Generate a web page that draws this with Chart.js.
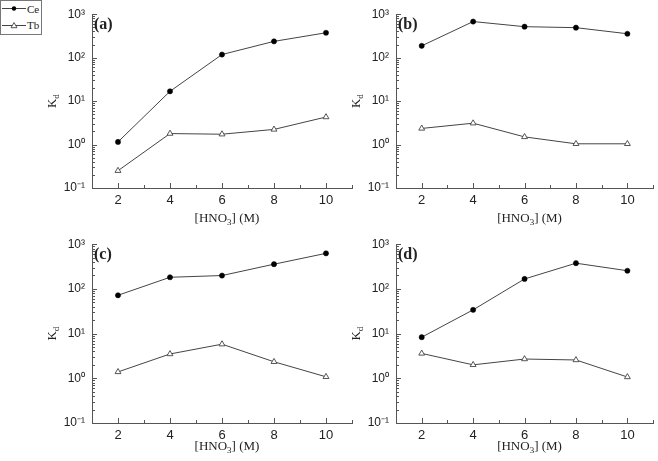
<!DOCTYPE html>
<html>
<head>
<meta charset="utf-8">
<script src="https://cdn.jsdelivr.net/npm/chart.js@4.4.1/dist/chart.umd.min.js"></script>
<style>
  html, body { margin: 0; padding: 0; background: #fff; }
  #wrap { position: relative; width: 658px; height: 461px; overflow: hidden; background: #fff; }
  canvas { position: absolute; }
  #legend { position: absolute; left: 0; top: 0; width: 40px; height: 33px; border: 1px solid #777; background: #fff; z-index: 5;
            font-family: "Liberation Serif", "Times New Roman", serif; font-size: 11px; color: #222; }
  .row { position: absolute; left: 0; height: 16px; width: 40px; white-space: nowrap; }
  .row svg { position: absolute; left: 0px; top: 0px; }
  .row span { position: absolute; left: 26px; top: 1px; line-height: 14px; white-space: nowrap; }
</style>
</head>
<body>
<div id="wrap">
  <canvas id="ca" style="left:0px;top:0px" width="360" height="230"></canvas>
  <canvas id="cb" style="left:304px;top:0px" width="354" height="230"></canvas>
  <canvas id="cc" style="left:0px;top:230px" width="360" height="231"></canvas>
  <canvas id="cd" style="left:304px;top:230px" width="354" height="231"></canvas>
  <div id="legend">
    <div class="row" style="top:0px">
      <svg width="26" height="16"><line x1="1" y1="7.5" x2="25" y2="7.5" stroke="#444" stroke-width="1"/><circle cx="13" cy="7.5" r="2.2" fill="#000"/></svg>
      <span>Ce</span>
    </div>
    <div class="row" style="top:16px">
      <svg width="26" height="16"><line x1="1" y1="8.5" x2="25" y2="8.5" stroke="#444" stroke-width="1"/><polygon points="13,5.5 16,10.7 10,10.7" fill="#fff" stroke="#444" stroke-width="0.9"/></svg>
      <span>Tb</span>
    </div>
  </div>
</div>
<script>
// ---- data ----
const xValues = [2, 4, 6, 8, 10];          // [HNO3] (M)
const ceA = [1.15, 16.8, 118, 237, 374];
const tbA = [0.25, 1.79, 1.73, 2.23, 4.3];
const ceB = [187, 677, 516, 490, 355];
const tbB = [2.35, 3.1, 1.5, 1.04, 1.04];
const ceC = [72, 182, 199, 357, 624];
const tbC = [1.39, 3.5, 5.8, 2.34, 1.08];
const ceD = [8.3, 34, 167, 376, 255];
const tbD = [3.6, 2.0, 2.7, 2.57, 1.07];
const yTickValues = [0.1, 1, 10, 100, 1000];
const yTickLabels = ['10\u207B\u00B9', '10\u2070', '10\u00B9', '10\u00B2', '10\u00B3'];
const xTickValues = [2, 4, 6, 8, 10];
const panelLabels = ['(a)', '(b)', '(c)', '(d)'];
const seriesNames = ['Ce', 'Tb'];

const AX = '#555';
const LINE = '#444';

const decoPlugin = {
  id: 'deco',
  afterDraw(chart, args, opts) {
    const { ctx, chartArea: ca, scales: { x, y } } = chart;
    ctx.save();
    ctx.strokeStyle = AX;
    ctx.lineWidth = 1;
    ctx.beginPath();
    for (let v = 1; v <= 11; v++) {
      const px = Math.round(x.getPixelForValue(v)) + 0.5;
      const len = (v % 2 === 0) ? 5 : 3;
      ctx.moveTo(px, ca.bottom);
      ctx.lineTo(px, ca.bottom - len);
    }
    for (let k = -1; k <= 3; k++) {
      for (let m = 1; m <= 9; m++) {
        const v = m * Math.pow(10, k);
        if (v > 1000.0001) break;
        const py = Math.round(y.getPixelForValue(v)) + 0.5;
        const len = (m === 1) ? 5 : 3;
        ctx.moveTo(ca.left, py);
        ctx.lineTo(ca.left + len, py);
      }
    }
    ctx.stroke();

    ctx.fillStyle = '#222';
    ctx.font = 'bold 16px "Liberation Serif", "Times New Roman", serif';
    ctx.textBaseline = 'top';
    ctx.textAlign = 'left';
    ctx.fillText(opts.label, ca.left + 2, ca.top + 3);

    const big = '13px "Liberation Serif", "Times New Roman", serif';
    const small = '9px "Liberation Serif", "Times New Roman", serif';
    ctx.textBaseline = 'middle';
    ctx.font = big; const w1 = ctx.measureText('[HNO').width; const w3 = ctx.measureText('] (M)').width;
    ctx.font = small; const w2 = ctx.measureText('3').width;
    const tot = w1 + w2 + w3;
    let sx = (ca.left + ca.right) / 2 + 5 - tot / 2;
    const ty = ca.bottom + opts.xTitleOffset;
    ctx.font = big; ctx.fillText('[HNO', sx, ty); sx += w1;
    ctx.font = small; ctx.fillText('3', sx, ty + 4); sx += w2;
    ctx.font = big; ctx.fillText('] (M)', sx, ty);

    ctx.save();
    ctx.translate(ca.left - 39, (ca.top + ca.bottom) / 2);
    ctx.rotate(-Math.PI / 2);
    ctx.font = big; const kw = ctx.measureText('K').width;
    ctx.font = small; const dw = ctx.measureText('d').width;
    let yx = -(kw + dw) / 2;
    ctx.font = big; ctx.fillText('K', yx, 0); yx += kw;
    ctx.font = small; ctx.fillText('d', yx, 4);
    ctx.restore();

    ctx.restore();
  }
};

function makePanel(id, ce, tb, label, pad, xAxisH, xTitleOffset) {
  const toPts = arr => xValues.map((xv, i) => ({ x: xv, y: arr[i] }));
  new Chart(document.getElementById(id), {
    type: 'line',
    data: {
      datasets: [
        { label: seriesNames[0], data: toPts(ce), borderColor: LINE, borderWidth: 1,
          pointStyle: 'circle', pointRadius: 2.6, pointBackgroundColor: '#000', pointBorderColor: '#000', pointBorderWidth: 0.5, tension: 0 },
        { label: seriesNames[1], data: toPts(tb), borderColor: LINE, borderWidth: 1,
          pointStyle: 'triangle', pointRadius: 3.4, pointBackgroundColor: '#fff', pointBorderColor: LINE, pointBorderWidth: 0.9, tension: 0 }
      ]
    },
    options: {
      responsive: false, animation: false, events: [],
      layout: { padding: pad },
      plugins: { legend: { display: false }, tooltip: { enabled: false }, deco: { label, xTitleOffset } },
      scales: {
        x: {
          type: 'linear', min: 1, max: 11,
          afterBuildTicks: s => { s.ticks = xTickValues.map(v => ({ value: v })); },
          afterFit: s => { s.height = xAxisH; },
          grid: { display: true, drawOnChartArea: false, drawTicks: false },
          border: { display: true, color: AX, width: 1 },
          ticks: { padding: 5, color: '#222', font: { family: 'Arial, "Liberation Sans", sans-serif', size: 13 }, maxRotation: 0, autoSkip: false,
                   callback: v => String(v) }
        },
        y: {
          type: 'logarithmic', min: 0.1, max: 1000,
          afterBuildTicks: s => { s.ticks = yTickValues.map(v => ({ value: v })); },
          afterFit: s => { s.width = 92; },
          grid: { display: true, drawOnChartArea: false, drawTicks: false },
          border: { display: true, color: AX, width: 1 },
          ticks: { padding: 7, color: '#222', font: { family: 'Arial, "Liberation Sans", sans-serif', size: 12 }, autoSkip: false,
                   callback: v => { const i = yTickValues.indexOf(v); return i >= 0 ? yTickLabels[i] : ''; } }
        }
      }
    },
    plugins: [decoPlugin]
  });
}

makePanel('ca', ceA, tbA, panelLabels[0], { top: 7, right: 8, left: 0, bottom: 0 }, 42, 31);
makePanel('cb', ceB, tbB, panelLabels[1], { top: 7, right: 3, left: 0, bottom: 0 }, 42, 31);
makePanel('cc', ceC, tbC, panelLabels[2], { top: 11, right: 8, left: 0, bottom: 0 }, 38, 24);
makePanel('cd', ceD, tbD, panelLabels[3], { top: 11, right: 3, left: 0, bottom: 0 }, 38, 24);
</script>
</body>
</html>
